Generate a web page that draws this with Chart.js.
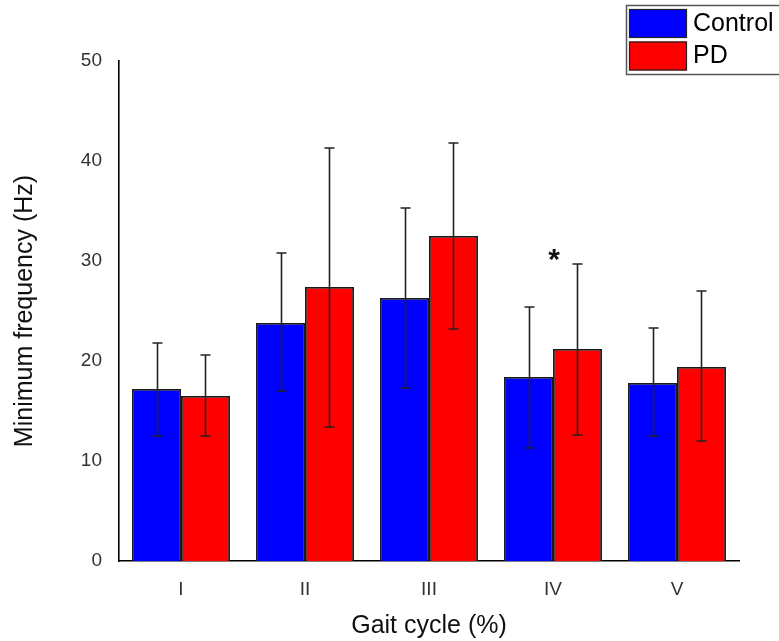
<!DOCTYPE html>
<html>
<head>
<meta charset="utf-8">
<script src="https://cdn.jsdelivr.net/npm/chart.js@4.4.1/dist/chart.umd.min.js"></script>
<style>
  html, body { margin: 0; padding: 0; background: #fff; }
  #wrap { width: 779px; height: 641px; position: relative; }
</style>
</head>
<body>
<div id="wrap"><canvas id="c" width="779" height="641"></canvas></div>
<script>
const categories = ['I', 'II', 'III', 'IV', 'V'];
const seriesNames = ['Control', 'PD'];
const controlMean = [17.2, 23.8, 26.3, 18.4, 17.8];
const controlLow  = [12.5, 17.0, 17.3, 11.3, 12.5];
const controlHigh = [21.8, 30.8, 35.3, 25.4, 23.3];
const pdMean = [16.5, 27.4, 32.5, 21.2, 19.4];
const pdLow  = [12.5, 13.4, 23.2, 12.6, 12.0];
const pdHigh = [20.6, 41.3, 41.8, 29.7, 27.0];
const yTicks = [0, 10, 20, 30, 40, 50];
// significance marker: category index and the value it sits at
const starCategory = 3;
const starValue = 30.7;

const FONT = "'Liberation Sans', Arial, sans-serif";

// whiskers drawn from the low/high arrays through the chart's own scales
const errorBars = {
  id: 'errorBars',
  afterDatasetsDraw(chart) {
    const ctx = chart.ctx;
    const y = chart.scales.y;
    const lows = [controlLow, pdLow];
    const highs = [controlHigh, pdHigh];
    ctx.save();
    ctx.strokeStyle = '#222';
    ctx.lineWidth = 1.6;
    chart.data.datasets.forEach((ds, di) => {
      const meta = chart.getDatasetMeta(di);
      meta.data.forEach((bar, i) => {
        const x = Math.round(bar.x) + 0.5;
        const yl = y.getPixelForValue(lows[di][i]);
        const yh = y.getPixelForValue(highs[di][i]);
        ctx.beginPath();
        ctx.moveTo(x, yl); ctx.lineTo(x, yh);
        ctx.moveTo(x - 5, yl); ctx.lineTo(x + 5, yl);
        ctx.moveTo(x - 5, yh); ctx.lineTo(x + 5, yh);
        ctx.stroke();
      });
    });
    // asterisk above the group
    const xs = chart.scales.x.getPixelForValue(starCategory);
    ctx.fillStyle = '#111';
    ctx.font = 'bold 30px ' + FONT;
    ctx.textAlign = 'center';
    ctx.textBaseline = 'middle';
    ctx.fillText('*', xs + 1, y.getPixelForValue(starValue) + 7);
    ctx.restore();
  }
};

// boxed legend in the top-right corner
const boxLegend = {
  id: 'boxLegend',
  afterDraw(chart) {
    const ctx = chart.ctx;
    const colors = ['#0000ff', '#ff0000'];
    ctx.save();
    ctx.strokeStyle = '#555';
    ctx.lineWidth = 1.5;
    ctx.strokeRect(626.5, 5.5, 200, 69);
    ctx.font = '25px ' + FONT;
    ctx.textBaseline = 'middle';
    ctx.textAlign = 'left';
    seriesNames.forEach((name, i) => {
      const top = 9 + i * 32.5;
      ctx.fillStyle = colors[i];
      ctx.fillRect(629, top, 58, 29);
      ctx.strokeStyle = '#222';
      ctx.lineWidth = 1.2;
      ctx.strokeRect(629.5, top + 0.5, 57, 28);
      ctx.fillStyle = '#000';
      ctx.fillText(name, 693, top + 15);
    });
    ctx.restore();
  }
};

new Chart(document.getElementById('c'), {
  type: 'bar',
  data: {
    labels: categories,
    datasets: [
      { label: seriesNames[0], data: controlMean, backgroundColor: '#0000ff', borderColor: '#1a1a1a', borderWidth: 1.8 },
      { label: seriesNames[1], data: pdMean, backgroundColor: '#ff0000', borderColor: '#1a1a1a', borderWidth: 1.8 }
    ]
  },
  options: {
    responsive: false,
    animation: false,
    layout: { padding: { top: 61, right: 40, left: 0, bottom: 0 } },
    datasets: { bar: { categoryPercentage: 0.79, barPercentage: 1.0 } },
    plugins: { legend: { display: false }, tooltip: { enabled: false } },
    scales: {
      x: {
        grid: { display: false, drawTicks: false },
        border: { display: true, color: '#000', width: 1.6 },
        ticks: { color: '#333', font: { family: FONT, size: 19 }, padding: 17 },
        title: { display: true, text: 'Gait cycle (%)', color: '#111', font: { family: FONT, size: 25 }, padding: { top: 8, bottom: 0 } },
        afterFit(s) { s.height = 80; }
      },
      y: {
        min: 0, max: 50,
        afterBuildTicks(s) { s.ticks = yTicks.map(v => ({ value: v })); },
        grid: { display: false, drawTicks: false },
        border: { display: true, color: '#000', width: 1.6 },
        ticks: { color: '#333', font: { family: FONT, size: 19 }, padding: 17 },
        title: { display: true, text: 'Minimum frequency (Hz)', color: '#111', font: { family: FONT, size: 25 }, padding: { top: 10, bottom: 0 } },
        afterFit(s) { s.width = 119; }
      }
    }
  },
  plugins: [errorBars, boxLegend]
});
</script>
</body>
</html>
